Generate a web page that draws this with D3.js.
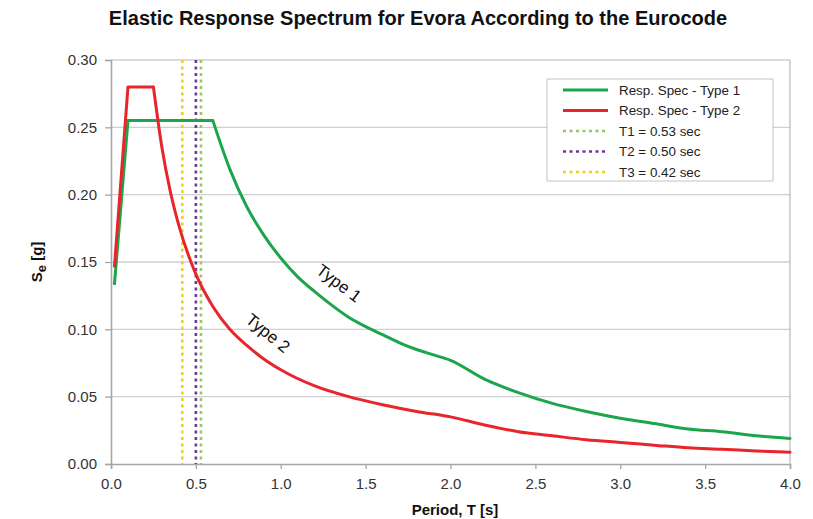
<!DOCTYPE html>
<html>
<head>
<meta charset="utf-8">
<script src="https://cdn.jsdelivr.net/npm/d3@7"></script>
<style>
  body { margin: 0; background: #fff; }
  svg text { font-family: "Liberation Sans", Arial, sans-serif; }
</style>
</head>
<body>
<div id="chart"></div>
<script>
// periods [s] and spectral accelerations [g]
var periods1 = [0.02, 0.1, 0.6, 0.7, 0.8, 0.9, 1.0, 1.1, 1.2, 1.3, 1.4, 1.5, 1.6, 1.7, 1.8, 1.9, 2.0,
                2.2, 2.4, 2.6, 2.8, 3.0, 3.2, 3.4, 3.6, 3.8, 4.0];
var type1 = [0.133, 0.255, 0.255, 0.219, 0.191, 0.170, 0.153, 0.139, 0.128, 0.118, 0.109, 0.102, 0.096,
             0.090, 0.085, 0.081, 0.077, 0.063, 0.053, 0.045, 0.039, 0.034, 0.030, 0.026, 0.024, 0.021, 0.019];

var periods2 = [0.02, 0.1, 0.25, 0.3, 0.35, 0.4, 0.5, 0.6, 0.7, 0.8, 0.9, 1.0, 1.2, 1.4, 1.6, 1.8, 2.0,
                2.2, 2.4, 2.6, 2.8, 3.0, 3.2, 3.4, 3.6, 3.8, 4.0];
var type2 = [0.146, 0.280, 0.280, 0.235, 0.202, 0.177, 0.141, 0.117, 0.100, 0.088, 0.078, 0.070, 0.058,
             0.050, 0.044, 0.039, 0.035, 0.029, 0.024, 0.021, 0.018, 0.016, 0.014, 0.012, 0.011, 0.0097, 0.0088];

var markerNames = ["T1 = 0.53 sec", "T2 = 0.50 sec", "T3 = 0.42 sec"];
var markerPeriods = [0.53, 0.50, 0.42];
var markerColors = ["#9cc95c", "#6b3a98", "#f2cf1f"];

var xTicks = [0, 0.5, 1, 1.5, 2, 2.5, 3, 3.5, 4];
var yTicks = [0, 0.05, 0.10, 0.15, 0.20, 0.25, 0.30];

var green = "#1ba64c", red = "#e8252b";

var margin = {top: 60, right: 23, bottom: 55, left: 111};
var width = 813, height = 519;
var w = width - margin.left - margin.right;
var h = height - margin.top - margin.bottom;

var svg = d3.select("#chart").append("svg")
    .attr("width", width)
    .attr("height", height);

var xScale = d3.scaleLinear().domain([0, 4]).range([margin.left, margin.left + w]);
var yScale = d3.scaleLinear().domain([0, 0.30]).range([margin.top + h, margin.top]);

// grid
svg.append("g").selectAll("line")
    .data(yTicks.slice(1))
    .enter().append("line")
    .attr("x1", xScale(0)).attr("x2", xScale(4))
    .attr("y1", d => yScale(d)).attr("y2", d => yScale(d))
    .attr("stroke", "#cfcfcf").attr("stroke-width", 1.3);

// right border
svg.append("line")
    .attr("x1", xScale(4)).attr("x2", xScale(4))
    .attr("y1", yScale(0.30)).attr("y2", yScale(0))
    .attr("stroke", "#bdbdbd").attr("stroke-width", 1.3);

// axes
var yAxis = svg.append("g")
    .attr("transform", `translate(${margin.left},0)`)
    .call(d3.axisLeft(yScale).tickValues(yTicks).tickFormat(d3.format(".2f")).tickSize(6).tickPadding(8));
var xAxis = svg.append("g")
    .attr("transform", `translate(0,${margin.top + h})`)
    .call(d3.axisBottom(xScale).tickValues(xTicks).tickFormat(d3.format(".1f")).tickSize(5).tickPadding(9));

[xAxis, yAxis].forEach(function(ax){
    ax.select(".domain").attr("stroke", "#a6a6a6").attr("stroke-width", 1.6);
    ax.selectAll(".tick line").attr("stroke", "#a6a6a6").attr("stroke-width", 1.3);
    ax.selectAll(".tick text").attr("fill", "#333").style("font-size", "15px");
});

// vertical period markers
svg.append("g").selectAll("line")
    .data(markerPeriods)
    .enter().append("line")
    .attr("x1", d => xScale(d)).attr("x2", d => xScale(d))
    .attr("y1", yScale(0.30)).attr("y2", yScale(0))
    .attr("stroke", (d, i) => markerColors[i])
    .attr("stroke-width", 2.6)
    .attr("stroke-dasharray", "3,3.5");

// spectra: straight ramp and plateau, smoothed decay
var line = d3.line().x(d => xScale(d[0])).y(d => yScale(d[1]));
var smooth = d3.line().x(d => xScale(d[0])).y(d => yScale(d[1])).curve(d3.curveMonotoneX);

function drawSpectrum(periods, values, color){
    var pts = d3.zip(periods, values);
    svg.append("path")
        .datum(pts.slice(0, 3))
        .attr("d", line)
        .attr("fill", "none").attr("stroke", color).attr("stroke-width", 3)
        .attr("stroke-linejoin", "round");
    svg.append("path")
        .datum(pts.slice(2))
        .attr("d", smooth)
        .attr("fill", "none").attr("stroke", color).attr("stroke-width", 3)
        .attr("stroke-linecap", "round");
}
drawSpectrum(periods1, type1, green);
drawSpectrum(periods2, type2, red);

// curve labels
svg.append("text")
    .attr("transform", "translate(339,283) rotate(37)")
    .attr("text-anchor", "middle").attr("dy", "0.35em")
    .style("font-size", "17px").attr("fill", "#111")
    .text("Type 1");
svg.append("text")
    .attr("transform", "translate(268,333) rotate(39)")
    .attr("text-anchor", "middle").attr("dy", "0.35em")
    .style("font-size", "17px").attr("fill", "#111")
    .text("Type 2");

// legend
var legendNames = ["Resp. Spec - Type 1", "Resp. Spec - Type 2"].concat(markerNames);
var legendColors = [green, red].concat(markerColors);
var legend = svg.append("g").attr("transform", "translate(547,79)");
legend.append("rect")
    .attr("width", 226).attr("height", 102)
    .attr("fill", "#fff").attr("stroke", "#c4c4c4").attr("stroke-width", 1);
var items = legend.selectAll("g.item")
    .data(legendNames)
    .enter().append("g")
    .attr("class", "item")
    .attr("transform", (d, i) => `translate(0,${11 + i * 20.5})`);
items.append("line")
    .attr("x1", 16).attr("x2", 61)
    .attr("stroke", (d, i) => legendColors[i])
    .attr("stroke-width", (d, i) => i < 2 ? 3 : 2.6)
    .attr("stroke-dasharray", (d, i) => i < 2 ? null : "3,3.5");
items.append("text")
    .attr("x", 72).attr("dy", "0.35em")
    .style("font-size", "13.4px").attr("fill", "#222")
    .text(d => d);

// titles
svg.append("text")
    .attr("x", 418).attr("y", 25)
    .attr("text-anchor", "middle")
    .style("font-size", "20px").style("font-weight", "bold").attr("fill", "#111")
    .text("Elastic Response Spectrum for Evora According to the Eurocode");

svg.append("text")
    .attr("x", 455).attr("y", 515)
    .attr("text-anchor", "middle")
    .style("font-size", "15px").style("font-weight", "bold").attr("fill", "#111")
    .text("Period, T [s]");

var ylab = svg.append("text")
    .attr("transform", "translate(42,262) rotate(-90)")
    .attr("text-anchor", "middle")
    .style("font-size", "15px").style("font-weight", "bold").attr("fill", "#111");
ylab.append("tspan").text("S");
ylab.append("tspan").attr("dy", 4).style("font-size", "13px").text("e");
ylab.append("tspan").attr("dy", -4).text(" [g]");
</script>
</body>
</html>
